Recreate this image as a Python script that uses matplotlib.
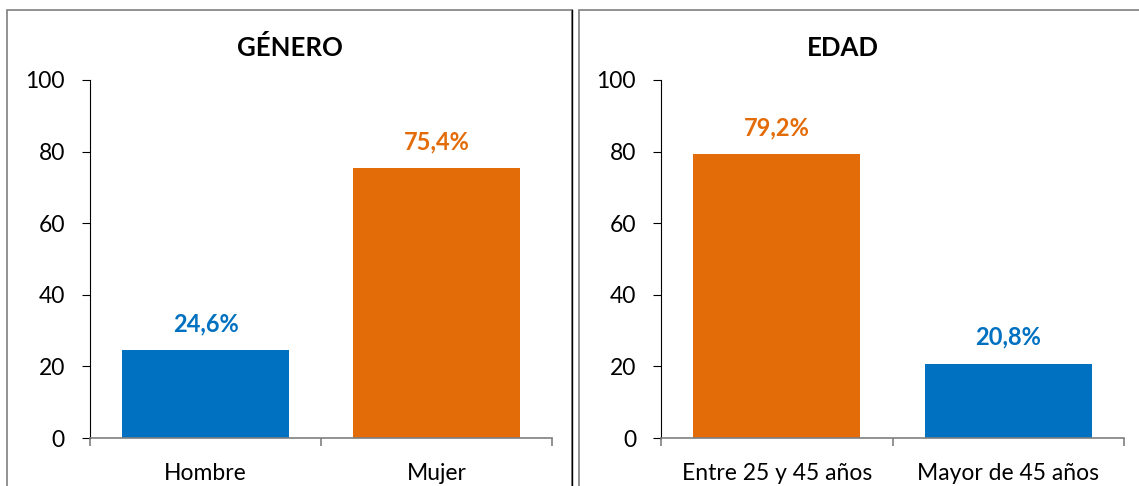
import matplotlib.pyplot as plt
from matplotlib.patches import Rectangle

plt.rcParams['font.family'] = ['Lato', 'DejaVu Sans']

# data
gen_cats = ["Hombre", "Mujer"]
gen_vals = [24.6, 75.4]
edad_cats = ["Entre 25 y 45 años", "Mayor de 45 años"]
edad_vals = [79.2, 20.8]

blue = "#0070C0"
orange = "#E36C09"
gen_colors = [blue, orange]
edad_colors = [orange, blue]

W, H = 1139, 486
fig = plt.figure(figsize=(W / 100, H / 100), dpi=100)

# panel frames
fig.patches.append(Rectangle((7 / W, -0.1), (572 - 7) / W, 1.1 - 10 / H,
                             transform=fig.transFigure, fill=False,
                             edgecolor="#7f7f7f", lw=1.2))
fig.lines.append(plt.Line2D([572 / W, 572 / W], [-0.1, 1 - 10 / H],
                            transform=fig.transFigure, color="black", lw=1.0))
fig.patches.append(Rectangle((579 / W, -0.1), (1145 - 579) / W, 1.1 - 10 / H,
                             transform=fig.transFigure, fill=False,
                             edgecolor="#7f7f7f", lw=1.2))


def panel(x0, x1, title, tx, cats, vals, colors):
    ax = fig.add_axes([x0 / W, 1 - 438 / H, (x1 - x0) / W, (438 - 80) / H])
    xs = range(len(cats))
    ax.bar(xs, vals, width=0.72, color=colors, zorder=2)
    for x, v, c in zip(xs, vals, colors):
        ax.annotate(f"{v:.1f}%".replace(".", ","), (x, v), xytext=(0, 19),
                    textcoords="offset points", ha="center", va="center",
                    fontsize=17, fontweight="bold", color=c)
    ax.set_ylim(0, 100)
    ax.set_xlim(-0.5, len(cats) - 0.5)
    ax.set_yticks(range(0, 101, 20))
    ax.set_xticks(list(xs))
    ax.set_xticklabels(cats)
    ax.set_xticks([-0.5 + i for i in range(len(cats) + 1)], minor=True)
    ax.tick_params(axis="x", which="major", length=0, pad=18, labelsize=16.5)
    ax.tick_params(axis="x", which="minor", length=6, width=1.2, color="#7f7f7f")
    ax.tick_params(axis="y", length=6, width=0.8, pad=12, labelsize=16.5)
    for s in ["top", "right"]:
        ax.spines[s].set_visible(False)
    ax.spines["left"].set_linewidth(0.8)
    ax.spines["bottom"].set_color("#7f7f7f")
    ax.spines["bottom"].set_linewidth(1.2)
    ax.spines["bottom"].set_zorder(3)
    fig.text(tx / W, 1 - 48 / H, title, ha="center", va="center",
             fontsize=18.5, fontweight="bold")
    return ax


panel(90, 552, "GÉNERO", 290, gen_cats, gen_vals, gen_colors)
panel(661, 1124, "EDAD", 843, edad_cats, edad_vals, edad_colors)

fig.savefig("out.png", dpi=100)
